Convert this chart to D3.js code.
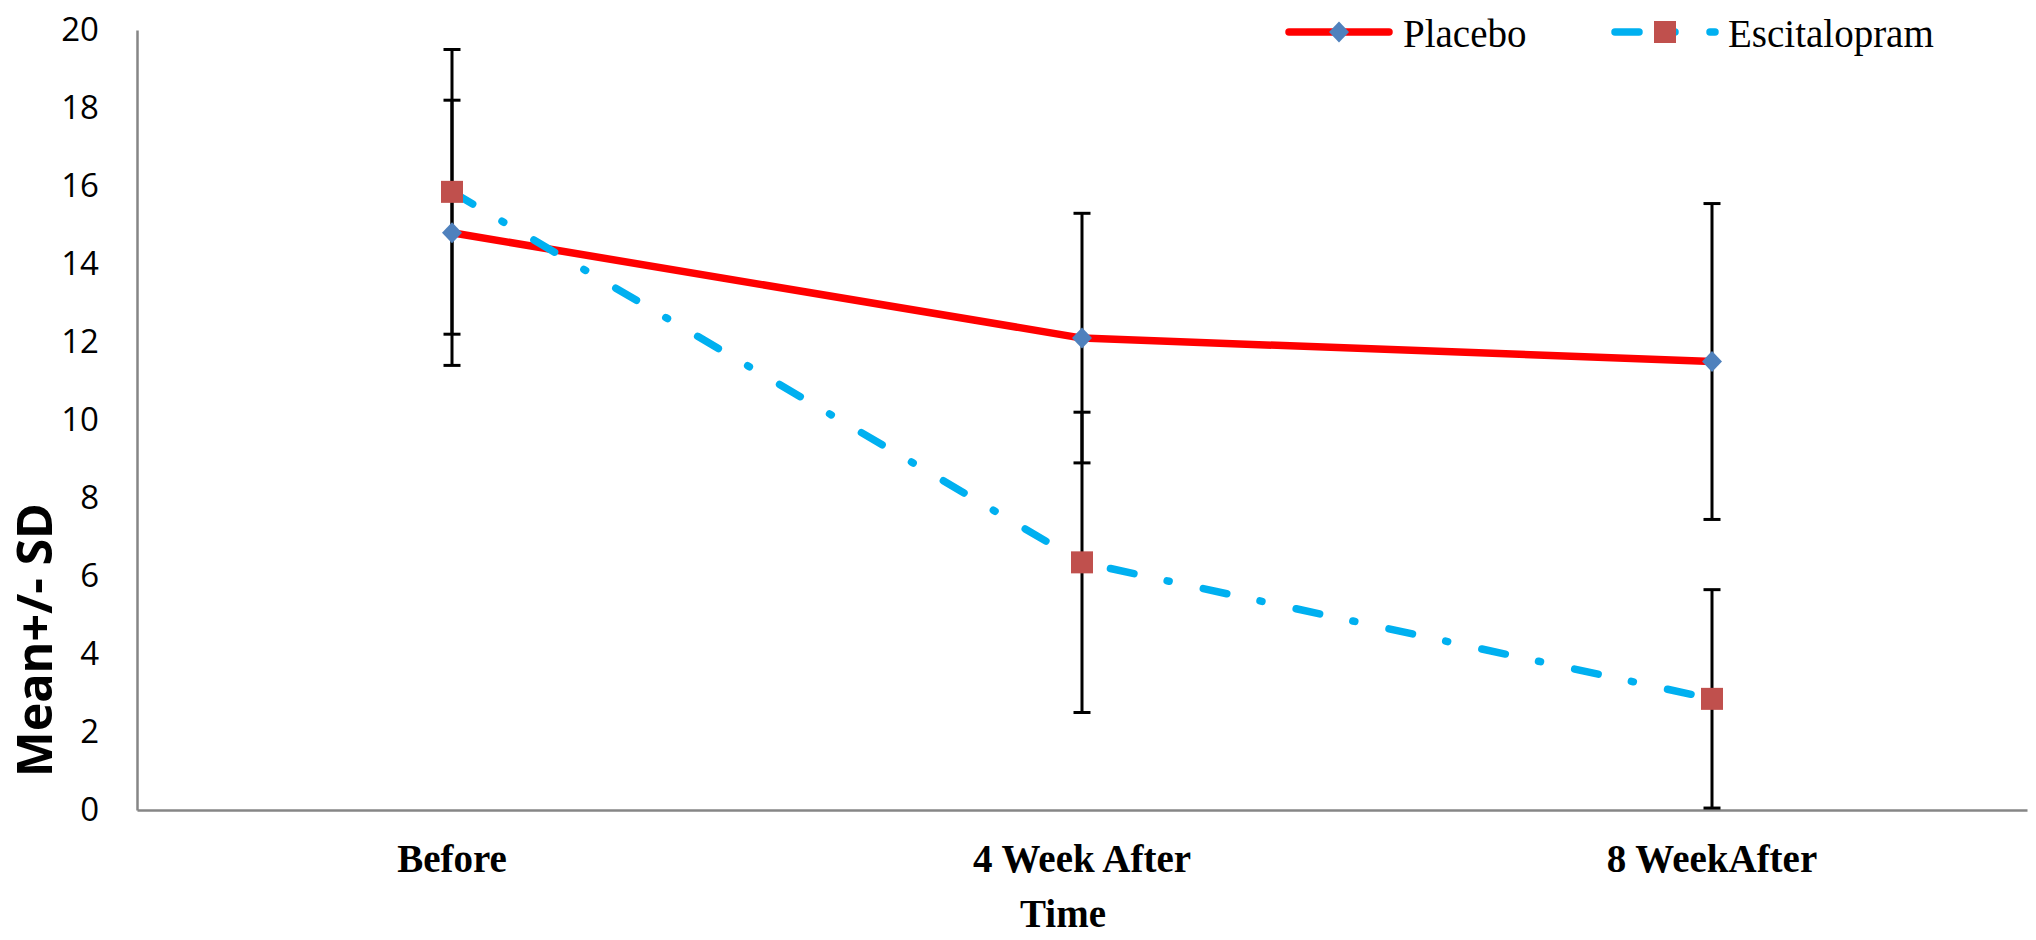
<!DOCTYPE html>
<html lang="en">
<head>
  <meta charset="UTF-8">
  <title>Mean +/- SD over Time</title>
  <script src="https://d3js.org/d3.v7.min.js"></script>
<style>
  body, html {
    margin: 0;
    padding: 0;
    background: #ffffff;
  }
  svg {
    display: block;
  }
  .tick text {
    font-family: "Open Sans", sans-serif;
    font-size: 33px;
    fill: #000;
  }
  .x-axis .tick text {
    font-family: "Liberation Serif", "Times New Roman", serif;
    font-weight: bold;
    font-size: 39px;
  }
  .domain {
    stroke: #868686;
    stroke-width: 2.5px;
  }
</style>
</head>
<body>
  <svg width="2036" height="940"></svg>

  <script>
    // chart values
    const categories   = ["Before", "4 Week After", "8 WeekAfter"];
    const placeboMean  = [14.8, 12.1, 11.5];
    const placeboSD    = [3.4, 3.2, 4.05];
    const escitaloMean = [15.85, 6.35, 2.85];
    const escitaloSD   = [3.65, 3.85, 2.8];
    const yTicks       = [0, 2, 4, 6, 8, 10, 12, 14, 16, 18, 20];
    const seriesNames  = ["Placebo", "Escitalopram"];

    const svg = d3.select("svg");

    const plot = {left: 137, right: 2027, top: 30, bottom: 810};

    const x = d3.scaleBand().domain(categories).range([plot.left, plot.right]);
    const y = d3.scaleLinear().domain([0, 20]).range([plot.bottom, plot.top]);
    const cx = c => x(c) + x.bandwidth() / 2;

    // y axis
    svg.append("g")
       .attr("class", "y-axis")
       .attr("transform", `translate(${plot.left},0)`)
       .call(d3.axisLeft(y).tickValues(yTicks).tickSize(0).tickPadding(38).tickSizeOuter(0));

    // x axis
    svg.append("g")
       .attr("class", "x-axis")
       .attr("transform", `translate(0,${plot.bottom})`)
       .call(d3.axisBottom(x).tickSize(0).tickPadding(34).tickSizeOuter(0));

    svg.selectAll(".tick line").remove();

    // axis titles
    svg.append("text")
       .attr("transform", "translate(52,640) rotate(-90)")
       .attr("text-anchor", "middle")
       .attr("textLength", 274)
       .attr("lengthAdjust", "spacingAndGlyphs")
       .style("font-family", "'Open Sans', sans-serif")
       .style("font-weight", "bold")
       .style("font-size", "49px")
       .text("Mean+/- SD");

    svg.append("text")
       .attr("x", 1063)
       .attr("y", 927)
       .attr("text-anchor", "middle")
       .style("font-family", "'Liberation Serif', 'Times New Roman', serif")
       .style("font-weight", "bold")
       .style("font-size", "39px")
       .text("Time");

    const placebo  = categories.map((c, i) => ({c, m: placeboMean[i], sd: placeboSD[i]}));
    const escitalo = categories.map((c, i) => ({c, m: escitaloMean[i], sd: escitaloSD[i]}));

    // error bars
    const capW = 8.5;
    [placebo, escitalo].forEach(series => {
      const g = svg.append("g").attr("stroke", "#000").attr("stroke-width", 3);
      series.forEach(d => {
        g.append("line")
         .attr("x1", cx(d.c)).attr("x2", cx(d.c))
         .attr("y1", y(d.m - d.sd)).attr("y2", y(d.m + d.sd));
        [d.m - d.sd, d.m + d.sd].forEach(v => {
          g.append("line")
           .attr("x1", cx(d.c) - capW).attr("x2", cx(d.c) + capW)
           .attr("y1", y(v)).attr("y2", y(v));
        });
      });
    });

    const line = d3.line().x(d => cx(d.c)).y(d => y(d.m));
    const dashDot = "24,34,2,35";

    svg.append("path")
       .datum(placebo)
       .attr("d", line)
       .attr("fill", "none")
       .attr("stroke", "#ff0000")
       .attr("stroke-width", 7.5)
       .attr("stroke-linejoin", "round");

    svg.append("path")
       .datum(escitalo)
       .attr("d", line)
       .attr("fill", "none")
       .attr("stroke", "#00b0f0")
       .attr("stroke-width", 7.5)
       .attr("stroke-linecap", "round")
       .attr("stroke-dasharray", dashDot);

    const diamond = (px, py) => `M${px},${py - 10.5}L${px + 10},${py}L${px},${py + 10.5}L${px - 10},${py}Z`;
    const sq = 22;

    svg.selectAll(".diamond")
       .data(placebo)
       .enter().append("path")
         .attr("class", "diamond")
         .attr("d", d => diamond(cx(d.c), y(d.m)))
         .attr("fill", "#4f81bd");

    svg.selectAll(".square")
       .data(escitalo)
       .enter().append("rect")
         .attr("class", "square")
         .attr("x", d => cx(d.c) - sq / 2)
         .attr("y", d => y(d.m) - sq / 2)
         .attr("width", sq)
         .attr("height", sq)
         .attr("fill", "#c0504d");

    // legend
    const legY = 32;
    const legend = svg.append("g");
    const legItems = [
      {name: seriesNames[0], x0: 1289, tx: 1403},
      {name: seriesNames[1], x0: 1615, tx: 1728}
    ];

    legend.append("line")
          .attr("x1", legItems[0].x0).attr("x2", legItems[0].x0 + 100)
          .attr("y1", legY).attr("y2", legY)
          .attr("stroke", "#ff0000").attr("stroke-width", 7.5)
          .attr("stroke-linecap", "round");
    legend.append("path")
          .attr("d", diamond(legItems[0].x0 + 50, legY))
          .attr("fill", "#4f81bd");

    legend.append("line")
          .attr("x1", legItems[1].x0).attr("x2", legItems[1].x0 + 100)
          .attr("y1", legY).attr("y2", legY)
          .attr("stroke", "#00b0f0").attr("stroke-width", 7.5)
          .attr("stroke-linecap", "round")
          .attr("stroke-dasharray", dashDot);
    legend.append("rect")
          .attr("x", legItems[1].x0 + 50 - sq / 2)
          .attr("y", legY - sq / 2)
          .attr("width", sq).attr("height", sq)
          .attr("fill", "#c0504d");

    legend.selectAll("text")
          .data(legItems)
          .enter().append("text")
            .attr("x", d => d.tx)
            .attr("y", 47)
            .style("font-family", "'Liberation Serif', 'Times New Roman', serif")
            .style("font-size", "39px")
            .text(d => d.name);
  </script>
</body>
</html>
